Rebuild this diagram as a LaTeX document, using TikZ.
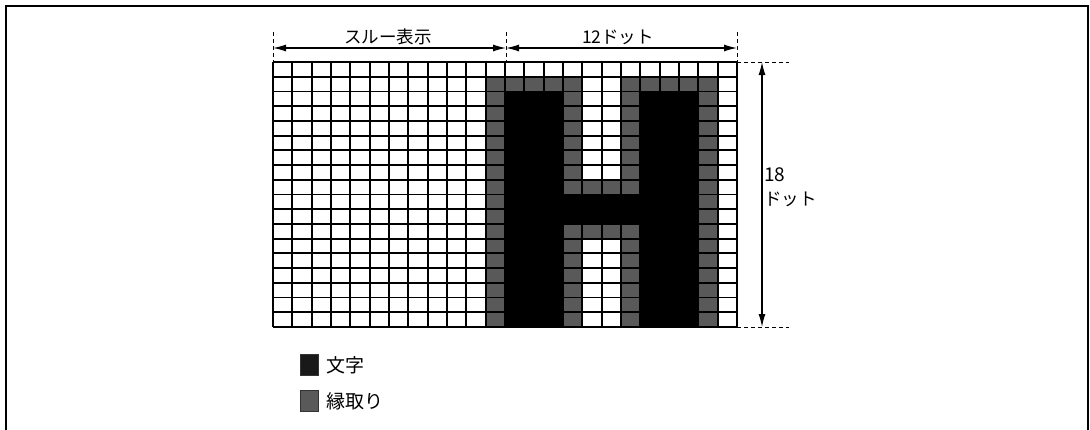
\documentclass[tikz,border=0pt]{standalone}
\usepackage{fontspec}
\newfontfamily\jp{Noto Sans CJK JP}
\usetikzlibrary{arrows.meta}
\definecolor{edge}{HTML}{595959}
\tikzset{
  dimline/.style={line width=1.2pt,{Latex[length=13pt,width=7pt]}-{Latex[length=13pt,width=7pt]}},
  extline/.style={line width=1pt,dash pattern=on 4pt off 3pt},
  gridline/.style={line width=1.8pt,black},
  lbl/.style={font=\jp\fontsize{17.5}{17.5}\selectfont,inner sep=0pt},
  numlbl/.style={font=\jp\fontsize{19}{19}\selectfont,inner sep=0pt},
  leglbl/.style={font=\jp\fontsize{19}{19}\selectfont,inner sep=0pt,anchor=west},
  legbox/.style={line width=1pt,minimum width=18pt,minimum height=21pt,inner sep=0pt}
}
\begin{document}
\begin{tikzpicture}[x=1pt,y=-1pt]
\useasboundingbox (0,0) rectangle (1090,429);
% frame
\draw[line width=2pt] (6,431) -- (6,6) -- (1088,6) -- (1088,431);
\def\cw{19.3333}
\def\rh{14.7222}
\def\gx{273}
\def\gy{62}
\newcommand{\cellfill}[3]{\fill[#3] (\gx+#1*\cw,\gy+#2*\rh) rectangle ++(\cw,\rh);}
% black cells
\foreach \r in {2,...,17}{\foreach \c in {12,13,14,19,20,21}{\cellfill{\c}{\r}{black}}}
\foreach \r in {9,10}{\foreach \c in {15,...,18}{\cellfill{\c}{\r}{black}}}
% gray cells
\foreach \c in {11,...,15,18,19,...,22}{\cellfill{\c}{1}{edge}}
\foreach \r in {2,...,17}{\foreach \c in {11,22}{\cellfill{\c}{\r}{edge}}}
\foreach \r in {2,...,8,11,12,...,17}{\foreach \c in {15,18}{\cellfill{\c}{\r}{edge}}}
\foreach \r in {8,11}{\foreach \c in {16,17}{\cellfill{\c}{\r}{edge}}}
% grid lines
\foreach \c in {0,...,24}{\draw[gridline] (\gx+\c*\cw,\gy) -- (\gx+\c*\cw,\gy+18*\rh);}
\foreach \r in {0,...,18}{\draw[gridline] (\gx,\gy+\r*\rh) -- (\gx+24*\cw,\gy+\r*\rh);}
% coordinates
\coordinate (tl) at (273,62);
\coordinate (tm) at (506,62);
\coordinate (tr) at (737,62);
\coordinate (br) at (737,327);
\coordinate (tlT) at (273,32);
\coordinate (tmT) at (506,32);
\coordinate (trT) at (737,32);
\coordinate (trR) at (789,62);
\coordinate (brR) at (789,327);
\coordinate (aL) at (273,48);
\coordinate (aM) at (506,48);
\coordinate (aR) at (737,48);
\coordinate (vT) at (762,62);
\coordinate (vB) at (762,327);
% extension lines
\draw[extline] (tlT) -- (tl);
\draw[extline] (tmT) -- (tm);
\draw[extline] (trT) -- (tr);
\draw[extline] (tr) -- (trR);
\draw[extline] (br) -- (brR);
% dimension arrows
\draw[dimline] (aL) -- (aM);
\draw[dimline] (aM) -- (aR);
\draw[dimline] (vT) -- (vB);
% labels
\node[lbl] (thru) at (388,37) {スルー表示};
\node[lbl] (w12) at (618,37) {12ドット};
\node[numlbl,anchor=west] (h18) at (764,175) {18};
\node[lbl,anchor=west] (hdot) at (764,199) {ドット};
% legend
\node[legbox,draw=black!80,fill=black!90] (lb1) at (309.5,365) {};
\node[legbox,draw=black!80,fill=edge] (lb2) at (309.5,401) {};
\node[leglbl] (lt1) at (326,365) {文字};
\node[leglbl] (lt2) at (326,401) {縁取り};
\end{tikzpicture}
\end{document}
